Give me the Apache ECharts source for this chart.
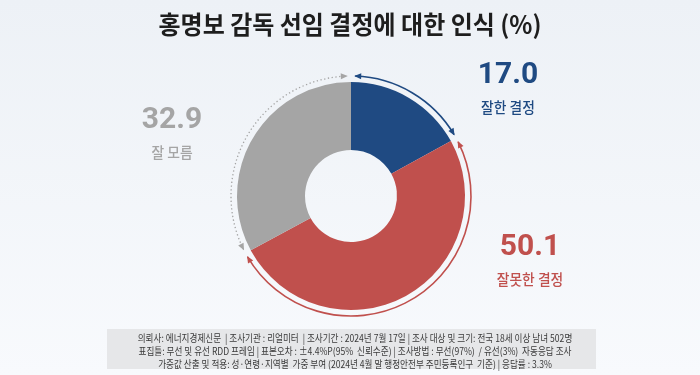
<!DOCTYPE html>
<html><head><meta charset="utf-8">
<script src="https://cdn.jsdelivr.net/npm/echarts@6/dist/echarts.min.js"></script>
<style>html,body{margin:0;padding:0;}#c{width:700px;height:375px;}</style>
</head><body><div id="c"></div>
<script>
const categories = ['잘한 결정', '잘못한 결정', '잘 모름'];
const values = [17.0, 50.1, 32.9];
const colors = ['#1f4a82', '#c0504d', '#a5a5a5'];
const titleText = '홍명보 감독 선임 결정에 대한 인식 (%)';
const footerLines = [
  '의뢰사: 에너지경제신문  | 조사기관 : 리얼미터  | 조사기간 : 2024년 7월 17일 | 조사 대상 및 크기: 전국 18세 이상 남녀 502명',
  '표집틀: 무선 및 유선 RDD 프레임 | 표본오차 : ±4.4%P(95%  신뢰수준) | 조사방법 : 무선(97%)  / 유선(3%)  자동응답 조사',
  '가중값 산출 및 적용: 성·연령·지역별  가중 부여 (2024년 4월 말 행정안전부 주민등록인구  기준) | 응답률 : 3.3%'
];

const cx = 351, cy = 196, rIn = 46, rOut = 114, rArc = 120;
const labelPos = [[508, 75], [530, 247], [172, 120]];
const KR = '"Noto Sans CJK KR", "Noto Sans", sans-serif';
const NUM = 'Roboto, "Noto Sans CJK KR", sans-serif';

const chart = echarts.init(document.getElementById('c'));
const total = values.reduce((a, b) => a + b, 0);
const graphics = [];

// background
graphics.push({type:'rect', z:-10, shape:{x:0,y:0,width:700,height:375},
  style:{fill:new echarts.graphic.LinearGradient(0,0,0,1,[{offset:0,color:'#edf1f6'},{offset:1,color:'#f8fafd'}])}});

// outer arcs with arrowheads
let acc = 0;
const gap = 0.035;
values.forEach((v, i) => {
  const a0 = (acc / total) * Math.PI * 2 - Math.PI / 2 + gap;
  acc += v;
  const a1 = (acc / total) * Math.PI * 2 - Math.PI / 2 - gap;
  const dashed = i === 2;
  graphics.push({type:'arc', silent:true, shape:{cx, cy, r:rArc, startAngle:a0, endAngle:a1, clockwise:true},
    style:{stroke:colors[i], lineWidth: dashed ? 1.3 : 1.6, fill:null, lineDash: dashed ? [1.3, 2.5] : null}});
  [[a0, -1], [a1, 1]].forEach(([a, dir]) => {
    const px = cx + rArc * Math.cos(a), py = cy + rArc * Math.sin(a);
    const tx = -Math.sin(a) * dir, ty = Math.cos(a) * dir;
    const nx = Math.cos(a), ny = Math.sin(a);
    const L = 6, W = 3;
    graphics.push({type:'polygon', silent:true, shape:{points:[
      [px + tx * 1, py + ty * 1],
      [px - tx * L + nx * W, py - ty * L + ny * W],
      [px - tx * L - nx * W, py - ty * L - ny * W]
    ]}, style:{fill:colors[i]}});
  });
});

// value labels
values.forEach((v, i) => {
  graphics.push({type:'text', x:labelPos[i][0], y:labelPos[i][1], style:{text:v.toFixed(1), fill:colors[i],
    font:'bold 30px ' + NUM, textAlign:'center', textVerticalAlign:'middle'}});
  graphics.push({type:'text', x:labelPos[i][0], y:labelPos[i][1] + 32, scaleX:0.92, style:{text:categories[i], fill:colors[i],
    font:'500 15px ' + KR, textAlign:'center', textVerticalAlign:'middle'}});
});

// title
graphics.push({type:'text', x:350, y:24, scaleX:0.96, style:{text:titleText, fill:'#1e1e1e', font:'bold 25px ' + KR,
  textAlign:'center', textVerticalAlign:'middle'}});

// footer
graphics.push({type:'rect', shape:{x:107, y:329, width:489, height:40}, style:{fill:'#e6e7e9'}});
footerLines.forEach((t, i) => {
  graphics.push({type:'text', x:355, y:338 + i * 13, scaleX:0.86, style:{text:t, fill:'#3a3a3a', font:'10px ' + KR,
    textAlign:'center', textVerticalAlign:'middle'}});
});

chart.setOption({
  animation:false,
  graphic: graphics,
  series:[{
    type:'pie', center:[cx, cy], radius:[rIn, rOut], startAngle:90, clockwise:true,
    silent:true, label:{show:false}, labelLine:{show:false},
    data: categories.map((c, i) => ({name:c, value:values[i], itemStyle:{color:colors[i]}}))
  }]
});
</script></body></html>
